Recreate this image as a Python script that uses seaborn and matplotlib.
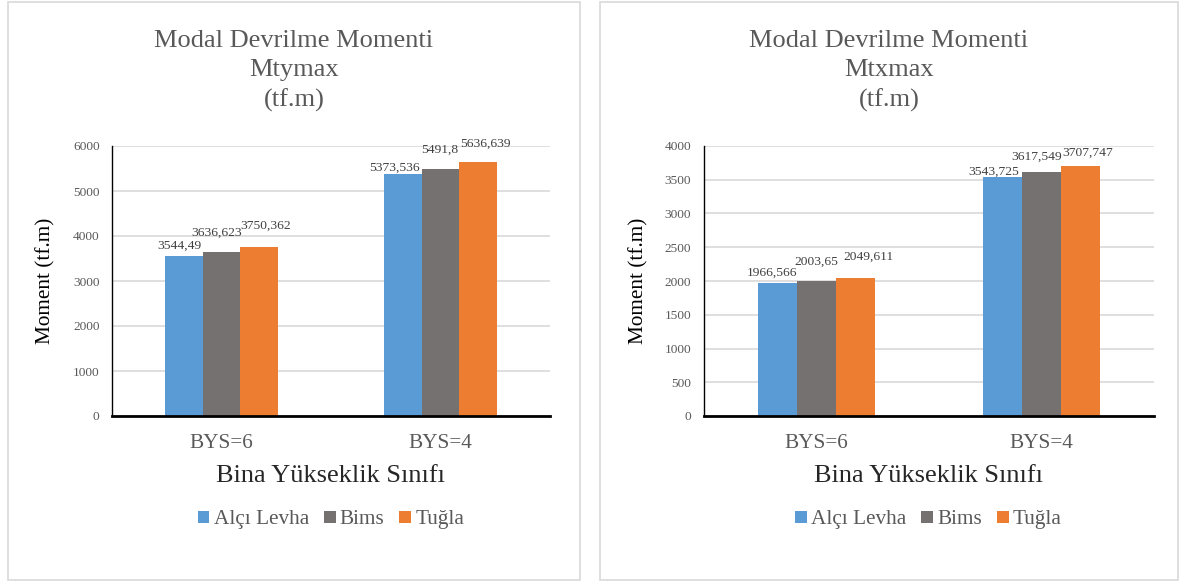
import matplotlib
matplotlib.use("Agg")
import matplotlib.pyplot as plt
from matplotlib.patches import Rectangle
import pandas as pd
import seaborn as sns

# --- data -------------------------------------------------------------
categories = ["BYS=6", "BYS=4"]
materials = ["Alçı Levha", "Bims", "Tuğla"]

mty_alci = [3544.49, 5373.536]
mty_bims = [3636.623, 5491.8]
mty_tugla = [3750.362, 5636.639]

mtx_alci = [1966.566, 3543.725]
mtx_bims = [2003.65, 3617.549]
mtx_tugla = [2049.611, 3707.747]

titles = ["Modal Devrilme Momenti\nMtymax\n(tf.m)",
          "Modal Devrilme Momenti\nMtxmax\n(tf.m)"]
y_label = "Moment (tf.m)"
x_label = "Bina Yükseklik Sınıfı"

# --- style ------------------------------------------------------------
sns.set_style("white")
plt.rcParams["font.family"] = ["Liberation Serif", "DejaVu Serif"]
colors = ["#5B9BD5", "#767171", "#ED7D31"]
text_col = "#595959"
grid_col = "#D9D9D9"

W, H = 1186, 583
fig = plt.figure(figsize=(W / 100, H / 100), dpi=100)


def fx(px):
    return px / W


def fy(py):
    return 1 - py / H


def long_frame(series):
    rows = []
    for mat, vals in zip(materials, series):
        for cat, v in zip(categories, vals):
            rows.append({"cat": cat, "mat": mat, "val": v})
    return pd.DataFrame(rows)


def fmt(v):
    # decimal comma, full precision
    return repr(float(v)).replace(".", ",")


# label nudges (pixels) per material and category: (dx, dy above bar top)
nudges_left = [[(-4, 11), (-8, 6)], [(-5, 20), (-1, 19)], [(6, 21), (7, 19)]]
nudges_right = [[(-5, 11), (-8, 5)], [(0, 19), (-4, 15)], [(13, 21), (8, 13)]]

panels = [
    dict(box=(8, 2, 580, 580), ax=(112, 146, 550, 416),
         series=[mty_alci, mty_bims, mty_tugla], ymax=6000, step=1000,
         title=titles[0], nudges=nudges_left, ylab_x=-0.128),
    dict(box=(600, 2, 1178, 580), ax=(703.5, 146, 1153.5, 416),
         series=[mtx_alci, mtx_bims, mtx_tugla], ymax=4000, step=500,
         title=titles[1], nudges=nudges_right, ylab_x=-0.123),
]

for p in panels:
    x0, y0, x1, y1 = p["box"]
    fig.patches.append(Rectangle((fx(x0), fy(y1)), fx(x1 - x0), (y1 - y0) / H,
                                 transform=fig.transFigure, fill=False,
                                 edgecolor=grid_col, linewidth=1.2))
    fig.text(fx((x0 + x1) / 2), fy(71), p["title"], ha="center", va="center",
             fontsize=19, color=text_col, linespacing=1.44)

    a0, b0, a1, b1 = p["ax"]
    ax = fig.add_axes([fx(a0), fy(b1), fx(a1 - a0), (b1 - b0) / H])
    df = long_frame(p["series"])
    sns.barplot(data=df, x="cat", y="val", hue="mat", order=categories,
                hue_order=materials, palette=colors, width=0.52,
                linewidth=0, saturation=1, ax=ax, errorbar=None)

    ax.set_xlim(-0.5, 1.5)
    ax.set_ylim(0, p["ymax"])
    ax.set_yticks(range(0, p["ymax"] + 1, p["step"]))
    ax.yaxis.grid(True, color=grid_col, linewidth=1.2)
    ax.set_axisbelow(True)
    for s in ("top", "right"):
        ax.spines[s].set_visible(False)
    ax.spines["left"].set_color("black")
    ax.spines["left"].set_linewidth(1.0)
    ax.spines["bottom"].set_color("black")
    ax.spines["bottom"].set_linewidth(2.0)
    ax.tick_params(axis="y", length=0, pad=9, labelsize=9.6, labelcolor=text_col)
    ax.tick_params(axis="x", length=0, pad=13, labelsize=15.3, labelcolor=text_col)

    ax.set_ylabel(y_label, fontsize=15.3, color="black")
    ax.yaxis.set_label_coords(p["ylab_x"], 0.5)
    ax.set_xlabel(x_label, fontsize=19, color="#262626")
    ax.xaxis.set_label_coords(0.5, -0.222)
    ax.xaxis.label.set_va("center")

    for i, cont in enumerate(ax.containers):
        for j, bar in enumerate(cont):
            v = p["series"][i][j]
            dx, dy = p["nudges"][i][j]
            ax.annotate(fmt(v), (bar.get_x() + bar.get_width() / 2, v),
                        xytext=(dx, dy), textcoords="offset pixels",
                        ha="center", va="center", fontsize=9.7, color="#404040")

    ax.legend(loc="center", bbox_to_anchor=(0.5, -0.385), ncol=3,
              frameon=False, fontsize=15.3, handlelength=0.55,
              handleheight=0.55, handletextpad=0.2, columnspacing=0.7,
              labelcolor=text_col)

fig.savefig("out.png", dpi=100, facecolor="white")
